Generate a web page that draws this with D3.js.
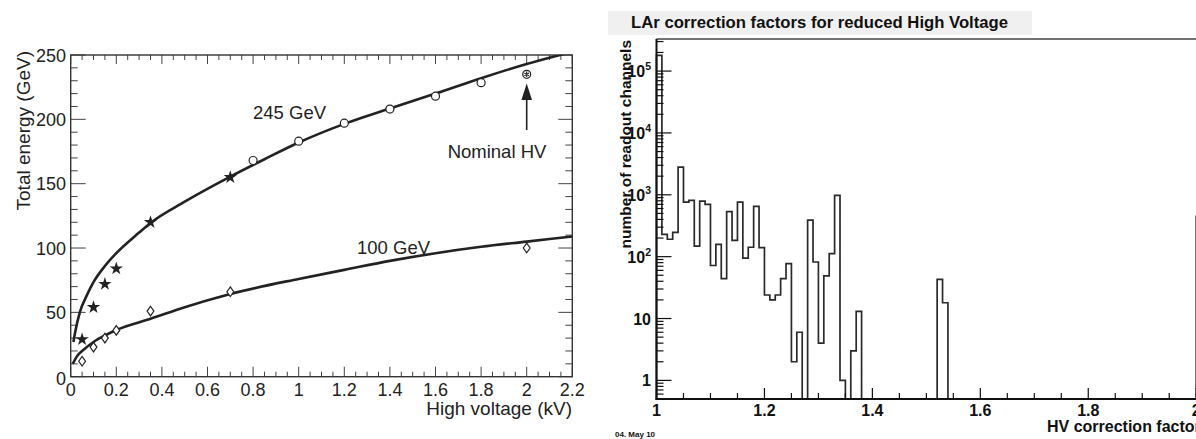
<!DOCTYPE html>
<html><head><meta charset="utf-8">
<script src="https://cdn.jsdelivr.net/npm/d3@7"></script>
<style>
html,body{margin:0;padding:0;background:#fff;}
svg{display:block;}
text{font-family:"Liberation Sans",Arial,Helvetica,sans-serif;}
</style></head>
<body>
<svg id="c" width="1196" height="439"></svg>
<script>
// ---------- Left panel data ----------
const curve245 = [[0.012,27],[0.02,35],[0.04,50],[0.07,63],[0.1,73.5],[0.15,86],[0.2,96],[0.3,112],[0.35,119.5],[0.5,136],[0.7,155.5],[0.85,169],[1.0,182],[1.2,196.5],[1.4,208.5],[1.6,220],[1.8,232],[2.0,243],[2.2,252.5]];
const curve100 = [[0.009,10],[0.03,16.5],[0.05,20],[0.1,27],[0.15,32],[0.2,36.3],[0.35,45],[0.5,54],[0.7,64.3],[1.0,76],[1.2,83],[1.4,90],[1.6,96],[1.8,101],[2.0,105],[2.2,109]];
const starsV = [0.05,0.1,0.15,0.2,0.35,0.7];
const starsE = [29,54,72,84,120,155];
const circlesV = [0.8,1.0,1.2,1.4,1.6,1.8];
const circlesE = [168,183,197,208,218,228.5];
const nominalPoint = [2.0,235];
const diamondsV = [0.05,0.1,0.15,0.2,0.35,0.7,2.0];
const diamondsE = [12,23,30,36,51,66,100];
const leftXTicks = [0,0.2,0.4,0.6,0.8,1,1.2,1.4,1.6,1.8,2,2.2];
const leftXTickLabels = ["0","0.2","0.4","0.6","0.8","1","1.2","1.4","1.6","1.8","2","2.2"];
const leftYTicks = [0,50,100,150,200,250];
const leftYTickLabels = ["0","50","100","150","200","250"];

// ---------- Right panel data ----------
const binStart = 1.0, binWidth = 0.01;
const binCounts = [180000,230,191,247,2800,760,810,148,790,700,
  72,158,44,535,183,760,95,142,650,140,
  24,20,24,44,77,2,6,0,390,82,
  4,49,112,980,1,0,3,13,0,0,
  0,0,0,0,0,0,0,0,0,0,
  0,0,43,18,0,0,0,0,0,0,
  0,0,0,0,0,0,0,0,0,0,
  0,0,0,0,0,0,0,0,0,0,
  0,0,0,0,0,0,0,0,0,0,
  0,0,0,0,0,0,0,0,0,0,
  450];
const histXTicks = [1,1.2,1.4,1.6,1.8,2];
const histXTickLabels = ["1","1.2","1.4","1.6","1.8","2"];
const histYTicks = [1,10,100,1000,10000,100000];
const histYTickBase = ["1","10","10","10","10","10"];
const histYTickExp = ["","","2","3","4","5"];

const svg = d3.select("#c");
const ink = "#222";

// ================= LEFT PANEL =================
const lx = d3.scaleLinear().domain([0,2.2]).range([70.7,572.3]);
const ly = d3.scaleLinear().domain([0,250]).range([376.7,55]);
const L = svg.append("g");
L.append("clipPath").attr("id","lclip").append("rect")
  .attr("x",lx(0)).attr("y",ly(250)).attr("width",lx(2.2)-lx(0)).attr("height",ly(0)-ly(250));

// ticks
const xMinor = d3.range(0,2.2001,0.05);
xMinor.forEach(v=>{
  const major = Math.abs(v/0.2 - Math.round(v/0.2))<1e-6;
  const len = major?10:5;
  L.append("line").attr("x1",lx(v)).attr("x2",lx(v)).attr("y1",ly(0)).attr("y2",ly(0)-len).attr("stroke","#444").attr("stroke-width",1);
  L.append("line").attr("x1",lx(v)).attr("x2",lx(v)).attr("y1",ly(250)).attr("y2",ly(250)+(major?9:5)).attr("stroke","#444").attr("stroke-width",1);
});
const yMinor = d3.range(0,250.01,10);
yMinor.forEach(v=>{
  const major = v%50===0;
  const len = major?15:7;
  L.append("line").attr("x1",lx(0)).attr("x2",lx(0)+len).attr("y1",ly(v)).attr("y2",ly(v)).attr("stroke","#444").attr("stroke-width",1);
  L.append("line").attr("x1",lx(2.2)).attr("x2",lx(2.2)-(major?14:7)).attr("y1",ly(v)).attr("y2",ly(v)).attr("stroke","#444").attr("stroke-width",1);
});
// frame
L.append("rect").attr("x",lx(0)).attr("y",ly(250)).attr("width",lx(2.2)-lx(0)).attr("height",ly(0)-ly(250))
  .attr("fill","none").attr("stroke","#333").attr("stroke-width",1.4);

// tick labels
leftXTicks.forEach((v,i)=>{
  L.append("text").attr("x",lx(v)).attr("y",396).attr("text-anchor","middle")
   .attr("font-size",18).attr("fill",ink).text(leftXTickLabels[i]);
});
leftYTicks.forEach((v,i)=>{
  L.append("text").attr("x",66).attr("y",ly(v)+6.5 + (v===0?2:0)).attr("text-anchor","end")
   .attr("font-size",18).attr("fill",ink).text(leftYTickLabels[i]);
});
// axis titles
L.append("text").attr("x",572).attr("y",415).attr("text-anchor","end").attr("font-size",19).attr("fill",ink).text("High voltage (kV)");
L.append("text").attr("transform","translate(30,51) rotate(-90)").attr("text-anchor","end").attr("font-size",19).attr("fill",ink).text("Total energy (GeV)");

// curves
const line = d3.line().x(d=>lx(d[0])).y(d=>ly(d[1])).curve(d3.curveMonotoneX);
const cg = L.append("g").attr("clip-path","url(#lclip)");
cg.append("path").attr("d",line(curve245)).attr("fill","none").attr("stroke",ink).attr("stroke-width",2.6);
cg.append("path").attr("d",line(curve100)).attr("fill","none").attr("stroke",ink).attr("stroke-width",2.6);

// markers
const star = d3.symbol().type(d3.symbolStar).size(55);
starsV.forEach((v,i)=>{
  L.append("path").attr("d",star()).attr("transform",`translate(${lx(v)},${ly(starsE[i])})`).attr("fill",ink);
});
circlesV.forEach((v,i)=>{
  L.append("circle").attr("cx",lx(v)).attr("cy",ly(circlesE[i])).attr("r",4).attr("fill","#fff").attr("stroke",ink).attr("stroke-width",1.2);
});
diamondsV.forEach((v,i)=>{
  const cx=lx(v), cy=ly(diamondsE[i]);
  L.append("path").attr("d",`M${cx},${cy-4.8}L${cx+3.4},${cy}L${cx},${cy+4.8}L${cx-3.4},${cy}Z`)
   .attr("fill","#fff").attr("stroke",ink).attr("stroke-width",1.2);
});
// nominal marker
{
  const cx=lx(nominalPoint[0]), cy=ly(nominalPoint[1]);
  L.append("circle").attr("cx",cx).attr("cy",cy).attr("r",4).attr("fill","#fff").attr("stroke",ink).attr("stroke-width",1.2);
  L.append("path").attr("d",d3.symbol().type(d3.symbolAsterisk).size(20)()).attr("transform",`translate(${cx},${cy})`).attr("stroke",ink).attr("stroke-width",1.1).attr("fill","none");
  // arrow
  L.append("line").attr("x1",cx).attr("x2",cx).attr("y1",130).attr("y2",98).attr("stroke",ink).attr("stroke-width",1.6);
  L.append("path").attr("d",`M${cx},83.5L${cx+5.3},100L${cx-5.3},100Z`).attr("fill",ink);
  L.append("text").attr("x",497).attr("y",157.5).attr("text-anchor","middle").attr("font-size",18.5).attr("fill",ink).text("Nominal HV");
}
L.append("text").attr("x",253).attr("y",118.5).attr("font-size",18.5).attr("fill",ink).text("245 GeV");
L.append("text").attr("x",357).attr("y",254).attr("font-size",18.5).attr("fill",ink).text("100 GeV");

// ================= RIGHT PANEL =================
const hx = d3.scaleLinear().domain([1,2]).range([656.5,1196.2]);
const hy = d3.scaleLog().domain([0.5,3.3e5]).range([399,39]);
const R = svg.append("g").attr("font-weight","bold");

// title box
R.append("rect").attr("x",608).attr("y",11).attr("width",424).attr("height",24).attr("fill","#f0f0f0");
R.append("text").attr("x",631).attr("y",27.5).attr("font-size",16.7).attr("fill","#111").text("LAr correction factors for reduced High Voltage");

// histogram path
const pts = [[binStart, 0.5]];
binCounts.forEach((c,i)=>{
  const v = c>0?c:0.5;
  const x0 = binStart + i*binWidth, x1 = x0+binWidth;
  pts.push([x0,v],[x1,v]);
});
pts.push([binStart+binCounts.length*binWidth,0.5]);
const hline = d3.line().x(d=>hx(d[0])).y(d=>hy(d[1]));
R.append("path").attr("d",hline(pts)).attr("fill","none").attr("stroke","#2a2a2a").attr("stroke-width",1.7).attr("stroke-linejoin","miter");

// frame top
R.append("line").attr("x1",656.5).attr("x2",1196).attr("y1",39).attr("y2",39).attr("stroke","#444").attr("stroke-width",1.6);
// axes
R.append("line").attr("x1",656.5).attr("x2",656.5).attr("y1",39).attr("y2",400).attr("stroke","#111").attr("stroke-width",2);
R.append("line").attr("x1",655.5).attr("x2",1196).attr("y1",399).attr("y2",399).attr("stroke","#111").attr("stroke-width",2);

// x ticks
d3.range(1,2.0001,0.05).forEach(v=>{
  const major = Math.abs((v-1)/0.2 - Math.round((v-1)/0.2))<1e-6;
  R.append("line").attr("x1",hx(v)).attr("x2",hx(v)).attr("y1",399).attr("y2",399-(major?11:6)).attr("stroke","#111").attr("stroke-width",1.2);
});
histXTicks.forEach((v,i)=>{
  R.append("text").attr("x",hx(v)).attr("y",415.5).attr("text-anchor","middle").attr("font-size",16).attr("fill","#111").text(histXTickLabels[i]);
});
// y ticks
const yMinorH = [];
for(let e=-1;e<=5;e++){ for(let m=1;m<=9;m++){ const v=m*Math.pow(10,e); if(v>=0.5 && v<=3.3e5) yMinorH.push([v,m===1]); } }
yMinorH.forEach(([v,major])=>{
  R.append("line").attr("x1",656.5).attr("x2",656.5+(major?15:7)).attr("y1",hy(v)).attr("y2",hy(v)).attr("stroke","#111").attr("stroke-width",1.2);
});
histYTicks.forEach((v,i)=>{
  const t = R.append("text").attr("x",651).attr("y",hy(v)+6).attr("text-anchor","end").attr("font-size",16).attr("fill","#111");
  t.append("tspan").text(histYTickBase[i]);
  if(histYTickExp[i]) t.append("tspan").attr("dy",-7).attr("font-size",10.5).text(histYTickExp[i]);
});
// axis titles
R.append("text").attr("x",1047).attr("y",432).attr("font-size",16).attr("fill","#111").text("HV correction factor");
R.append("text").attr("transform","translate(631,40) rotate(-90)").attr("text-anchor","end").attr("font-size",15.5).attr("fill","#111").text("number of readout channels");
R.append("text").attr("x",615).attr("y",437).attr("font-size",8).attr("fill","#111").text("04. May 10");
</script>
</body></html>
